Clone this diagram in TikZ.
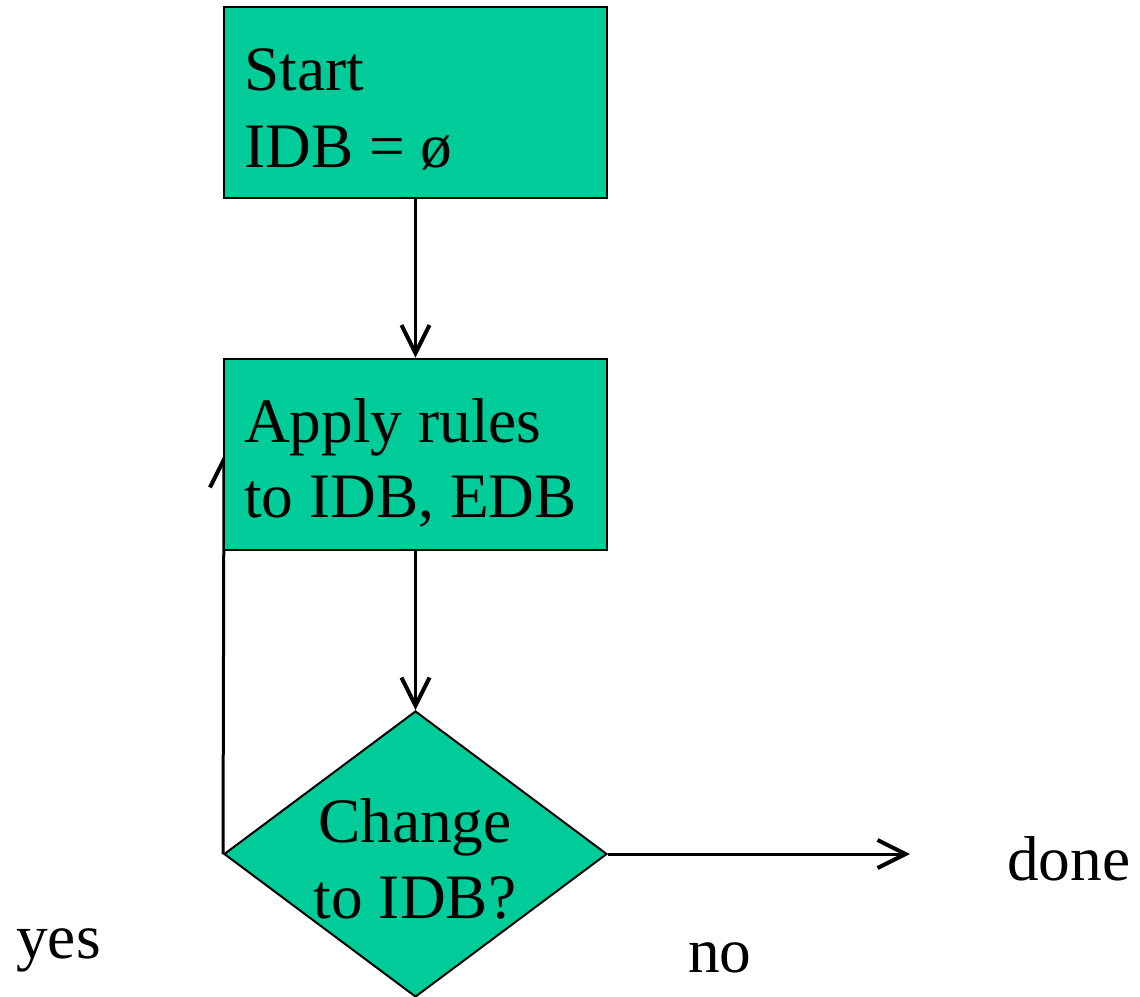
\documentclass[tikz,border=0pt]{standalone}
\usepackage{fontspec}
\setmainfont{Liberation Serif}
\usetikzlibrary{shapes.geometric,arrows.meta}
\definecolor{flowgreen}{RGB}{0,204,153}
\begin{document}
\begin{tikzpicture}[x=0.75pt,y=-0.75pt,
  boxnode/.style={draw=black,fill=flowgreen,line width=1.5pt,rectangle,inner sep=0pt,
     minimum width=287.25pt,minimum height=143.25pt},
  dianode/.style={draw=black,fill=flowgreen,line width=1.5pt,diamond,inner sep=0pt,
     minimum width=287.25pt,minimum height=214.5pt},
  lbl/.style={anchor=base west,inner sep=0pt,font=\fontsize{47.5}{57}\selectfont},
  clbl/.style={anchor=base,inner sep=0pt,font=\fontsize{47.5}{57}\selectfont},
  conn/.style={line width=2.25pt,-{Straight Barb[length=21pt,width=21pt,line width=3pt]}}]
\useasboundingbox (0,0) rectangle (1140,997);
% diamond first, then loop-back arrow, then boxes on top
\node[dianode] (dia) at (415.5,854) {};
\coordinate (looptip) at (224,455);
\draw[conn] (dia.west) -- (looptip);
\node[boxnode] (start) at (415.5,102.5) {};
\node[boxnode] (apply) at (415.5,454) {};
\node[lbl] (t1) at (244,90) {Start};
\node[lbl] (t2) at (244,167) {IDB = ø};
\node[lbl] (t3) at (244,442) {Apply rules};
\node[lbl] (t4) at (244,517) {to IDB, EDB};
\node[clbl] (t5) at (415,842) {Change};
\node[clbl] (t6) at (415,918) {to IDB?};
\coordinate (doneend) at (910,854);
\node[lbl] (done) at (1007,880) {done};
\node[lbl] (yes) at (16,958) {yes};
\node[lbl] (no) at (688,972) {no};
\draw[conn] (start.south) -- (apply.north);
\draw[conn] (apply.south) -- (dia.north);
\draw[conn] (dia.east) -- (doneend);
\end{tikzpicture}
\end{document}
